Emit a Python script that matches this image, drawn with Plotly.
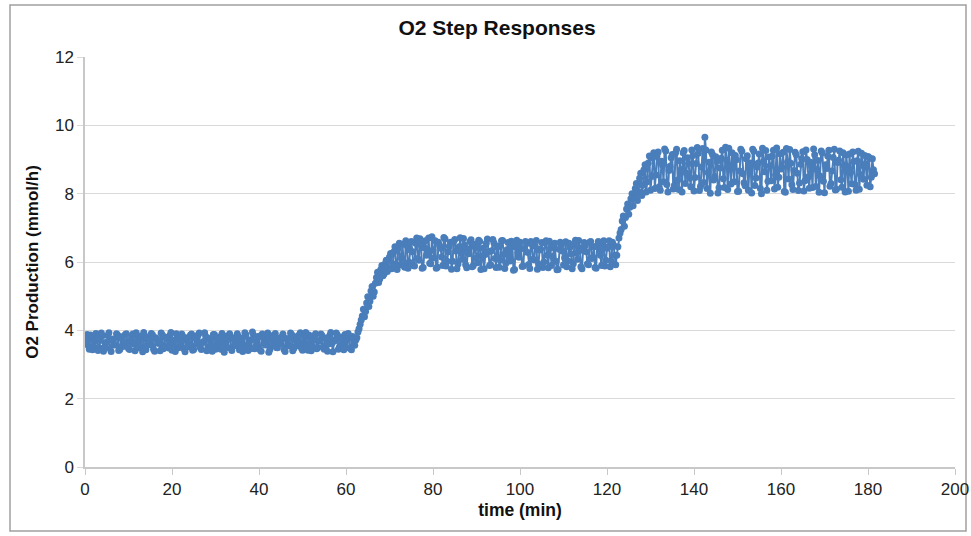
import plotly.graph_objects as go

# Logged every quarter minute: samples on the half-minute grid and the
# samples in between (quarter-minute offsets), both read from the picture
SAMPLE_STEP_MIN = 0.5
OFFSET_MIN = 0.25

# O2 production (mmol/h) on the half-minute grid, segment by segment
o2_baseline = [
    3.62, 3.88, 3.45, 3.79, 3.52, 3.91, 3.41, 3.70, 3.84, 3.48,
    3.66, 3.93, 3.38, 3.75, 3.57, 3.86, 3.44, 3.81, 3.60, 3.90,
    3.47, 3.72, 3.89, 3.40, 3.68, 3.83, 3.51, 3.94, 3.43, 3.77,
    3.58, 3.87, 3.39, 3.74, 3.63, 3.92, 3.46, 3.80, 3.55, 3.85,
    3.42, 3.71, 3.90, 3.49, 3.67, 3.82, 3.37, 3.78, 3.61, 3.89,
    3.44, 3.76, 3.86, 3.50, 3.64, 3.93, 3.40, 3.73, 3.56, 3.88,
    3.45, 3.80, 3.59, 3.91, 3.36, 3.69, 3.84, 3.48, 3.75, 3.62,
    3.90, 3.43, 3.77, 3.53, 3.87, 3.41, 3.72, 3.95, 3.46, 3.66,
    3.83, 3.39, 3.79, 3.57, 3.92, 3.44, 3.70, 3.85, 3.50, 3.76,
    3.61, 3.89, 3.38, 3.74, 3.54, 3.88, 3.47, 3.81, 3.65, 3.93,
    3.42, 3.78, 3.58, 3.86, 3.40, 3.71, 3.90, 3.49, 3.68, 3.84,
    3.45, 3.77, 3.60, 3.94, 3.37, 3.73, 3.87, 3.52, 3.80, 3.43,
    3.69, 3.91, 3.47, 3.82, 3.56,
]
o2_step1 = [
    3.78, 4.05, 4.30, 4.62, 4.55, 4.98, 4.85, 5.28, 5.12, 5.55,
    5.40, 5.78, 5.60, 5.95, 5.72, 6.15, 5.80, 6.30, 5.88, 6.40,
    5.92, 6.52, 5.85, 6.48, 6.00, 6.60,
]
o2_level2 = [
    5.90, 6.55, 6.10, 6.68, 5.82, 6.42, 6.20, 6.70, 5.95, 6.35,
    6.62, 5.85, 6.48, 6.15, 6.72, 5.88, 6.30, 6.58, 6.02, 6.66,
    5.80, 6.45, 6.25, 6.69, 5.92, 6.38, 6.60, 5.86, 6.52, 6.12,
    6.64, 5.78, 6.40, 6.22, 6.67, 5.90, 6.33, 6.56, 5.84, 6.47,
    6.05, 6.63, 5.81, 6.36, 6.18, 6.61, 5.76, 6.44, 6.28, 6.58,
    5.87, 6.39, 6.54, 5.93, 6.60, 6.08, 6.46, 5.79, 6.35, 6.57,
    6.00, 6.62, 5.83, 6.41, 6.16, 6.55, 5.77, 6.37, 6.50, 5.91,
    6.59, 6.04, 6.43, 5.80, 6.52, 6.26, 6.63, 5.86, 6.34, 6.48,
    5.95, 6.58, 6.10, 6.45, 5.82, 6.60, 6.20, 6.53, 5.88, 6.40,
    6.62, 6.02, 6.50, 5.92,
]
o2_step2 = [
    6.45, 6.85, 7.20, 7.05, 7.55, 7.40, 7.85, 7.65, 8.15, 7.80,
    8.45, 7.95, 8.70, 8.05, 8.90, 8.10, 9.05, 8.15,
]
o2_level3 = [
    9.10, 8.20, 8.95, 8.35, 9.25, 8.05, 8.80, 9.15, 8.25, 9.30,
    8.12, 8.70, 9.20, 8.30, 9.05, 8.45, 9.28, 8.08, 8.88, 9.18,
    8.22, 9.32, 9.65, 8.15, 8.92, 9.22, 8.40, 9.08, 8.02, 8.75,
    9.27, 8.18, 8.98, 9.33, 8.28, 8.85, 9.12, 8.06, 8.66, 9.24,
    8.32, 9.02, 8.10, 8.90, 9.30, 8.24, 8.78, 9.16, 8.00, 8.95,
    9.26, 8.36, 8.82, 9.10, 8.14, 9.34, 8.48, 8.72, 9.21, 8.04,
    8.93, 9.29, 8.26, 8.68, 9.14, 8.09, 8.86, 9.23, 8.38, 9.00,
    8.16, 8.80, 9.31, 8.21, 8.97, 8.52, 9.19, 8.03, 8.74, 9.27,
    8.30, 9.06, 8.11, 8.91, 9.25, 8.19, 8.83, 9.13, 8.07, 8.62,
    9.22, 8.27, 8.96, 8.13, 9.18, 8.42, 8.87, 9.09, 8.20, 9.02,
    8.58,
]

# O2 production (mmol/h) at the quarter-minute offsets (0.25, 0.75, ...)
o2_baseline_q = [
    3.74, 3.55, 3.86, 3.43, 3.68, 3.80, 3.50, 3.92, 3.39, 3.63,
    3.85, 3.47, 3.71, 3.58, 3.90, 3.41, 3.77, 3.53, 3.88, 3.66,
    3.44, 3.82, 3.60, 3.93, 3.49, 3.73, 3.37, 3.84, 3.56, 3.69,
    3.91, 3.45, 3.78, 3.62, 3.40, 3.87, 3.54, 3.75, 3.48, 3.94,
    3.64, 3.38, 3.81, 3.57, 3.89, 3.46, 3.70, 3.52, 3.86, 3.42,
    3.79, 3.61, 3.92, 3.44, 3.67, 3.83, 3.51, 3.76, 3.39, 3.88,
    3.59, 3.73, 3.45, 3.85, 3.63, 3.50, 3.90, 3.41, 3.78, 3.55,
    3.82, 3.67, 3.38, 3.93, 3.58, 3.71, 3.47, 3.86, 3.53, 3.80,
    3.43, 3.89, 3.62, 3.74, 3.36, 3.84, 3.57, 3.91, 3.49, 3.69,
    3.81, 3.44, 3.76, 3.60, 3.92, 3.40, 3.72, 3.55, 3.87, 3.48,
    3.65, 3.94, 3.42, 3.79, 3.54, 3.83, 3.46, 3.70, 3.89, 3.51,
    3.77, 3.39, 3.85, 3.62, 3.68, 3.92, 3.45, 3.74, 3.58, 3.88,
    3.50, 3.81, 3.43, 3.71, 3.72,
]
o2_step1_q = [
    3.95, 4.18, 4.42, 4.40, 4.80, 4.70, 5.15, 5.00, 5.38, 5.70,
    5.50, 5.90, 5.65, 6.05, 5.82, 6.25, 5.95, 6.45, 5.78, 6.55,
    6.10, 5.90, 6.62, 5.82, 6.35,
]
o2_level2_q = [
    6.30, 5.88, 6.70, 6.05, 6.50, 5.84, 6.62, 6.25, 5.96, 6.74,
    6.12, 5.82, 6.58, 6.40, 5.90, 6.68, 6.02, 6.46, 5.79, 6.60,
    6.32, 5.94, 6.71, 6.08, 6.50, 5.83, 6.24, 6.65, 5.89, 6.42,
    5.98, 6.60, 6.18, 5.80, 6.55, 6.30, 5.92, 6.66, 6.10, 6.44,
    5.85, 6.62, 6.22, 5.96, 6.57, 6.03, 6.48, 5.78, 6.64, 6.14,
    6.40, 5.88, 6.60, 6.28, 5.81, 6.52, 6.06, 6.63, 5.94, 6.38,
    5.84, 6.56, 6.20, 6.61, 5.90, 6.46, 6.02, 5.78, 6.58, 6.32,
    6.12, 5.86, 6.55, 6.24, 5.95, 6.64, 6.08, 6.42, 5.80, 6.57,
    6.30, 5.92, 6.60, 6.14, 5.84, 6.48, 6.36, 5.90, 6.62, 6.05,
    6.44, 5.86, 6.58, 6.20,
]
o2_step2_q = [
    6.20, 6.70, 6.95, 7.35, 7.30, 7.70, 7.60, 8.00, 7.90, 8.30,
    8.05, 8.60, 8.25, 8.85, 8.35, 9.10, 8.50, 9.20,
]
o2_level3_q = [
    8.55, 9.22, 8.10, 8.84, 9.31, 8.27, 8.68, 9.05, 8.14, 9.19,
    8.40, 8.96, 8.05, 9.26, 8.60, 8.88, 8.20, 9.12, 8.47, 9.35,
    8.09, 8.78, 8.33, 9.28, 8.62, 8.01, 9.15, 8.50, 8.94, 8.17,
    9.04, 8.44, 9.36, 8.12, 8.72, 9.20, 8.35, 8.99, 8.07, 9.30,
    8.58, 8.23, 9.11, 8.81, 8.02, 9.24, 8.46, 8.90, 8.15, 9.33,
    8.64, 8.10, 9.07, 8.38, 9.27, 8.55, 8.19, 9.17, 8.77, 8.06,
    9.32, 8.43, 8.89, 8.12, 9.21, 8.60, 8.31, 9.03, 8.08, 9.28,
    8.49, 8.92, 8.18, 9.14, 8.70, 8.04, 9.25, 8.36, 8.85, 9.10,
    8.22, 8.66, 9.30, 8.13, 8.98, 8.41, 9.20, 8.05, 8.79, 9.16,
    8.29, 8.94, 8.10, 9.24, 8.56, 8.83, 9.12, 8.25, 9.06, 8.48,
    8.70,
]

grid_vals = o2_baseline + o2_step1 + o2_level2 + o2_step2 + o2_level3
offset_vals = o2_baseline_q + o2_step1_q + o2_level2_q + o2_step2_q + o2_level3_q
grid_t = [i * SAMPLE_STEP_MIN for i in range(len(grid_vals))]
offset_t = [OFFSET_MIN + k * SAMPLE_STEP_MIN for k in range(len(offset_vals))]
samples = sorted(zip(grid_t + offset_t, grid_vals + offset_vals))
time_min = [s[0] for s in samples]
o2_values = [s[1] for s in samples]

x_ticks = [0, 20, 40, 60, 80, 100, 120, 140, 160, 180, 200]
y_ticks = [0, 2, 4, 6, 8, 10, 12]

BLUE = "#4a7ebb"
FONT = "Liberation Sans, Arial, sans-serif"

# page body margin removed below; plot area at page x 85..955, y 57..467
W, H = 971, 536
L, T = 85, 57
PW, PH = 870, 410

fig = go.Figure()
fig.add_trace(go.Scatter(
    x=time_min, y=o2_values, mode="lines+markers",
    line=dict(color=BLUE, width=2),
    marker=dict(color=BLUE, size=7, symbol="circle"),
    showlegend=False,
))

fig.update_layout(
    width=W, height=H,
    margin=dict(l=L, r=W - L - PW, t=T, b=H - T - PH),
    paper_bgcolor="white", plot_bgcolor="white",
    font=dict(family=FONT, size=17, color="#222"),
    title=dict(text="<b>O2 Step Responses</b>", x=0.4736, xref="paper",
               y=1 - 28 / H, yref="container", xanchor="center", yanchor="middle",
               font=dict(size=21, family=FONT, color="#111")),
    xaxis=dict(range=[0, 200], tickvals=x_ticks, showgrid=False,
               showline=True, linecolor="#c8c8c8", linewidth=1.5,
               ticks="outside", ticklen=6, tickcolor="#c8c8c8",
               zeroline=False, automargin=False,
               title=dict(text="<b>time (min)</b>", standoff=6,
                          font=dict(size=17.5, family=FONT, color="#111"))),
    yaxis=dict(range=[0, 12], tickvals=y_ticks, showgrid=True,
               gridcolor="#d9d9d9", gridwidth=1.2,
               showline=True, linecolor="#c8c8c8", linewidth=1.5,
               ticks="outside", ticklen=6, tickcolor="#d9d9d9",
               zeroline=False, automargin=False,
               title=dict(text="<b>O2 Production (mmol/h)</b>", standoff=12,
                          font=dict(size=17, family=FONT, color="#111"))),
)

# outer chart border
fig.add_shape(type="rect", xref="paper", yref="paper",
              x0=(10 - L) / PW, x1=(966 - L) / PW,
              y0=(T + PH - 531) / PH, y1=(T + PH - 5) / PH,
              line=dict(color="#a0a0a0", width=1.5), layer="below")

fig.write_html("out.html",
               config={"displayModeBar": False},
               post_script="document.body.style.margin='0px';"
                           "document.body.style.overflow='hidden';")
